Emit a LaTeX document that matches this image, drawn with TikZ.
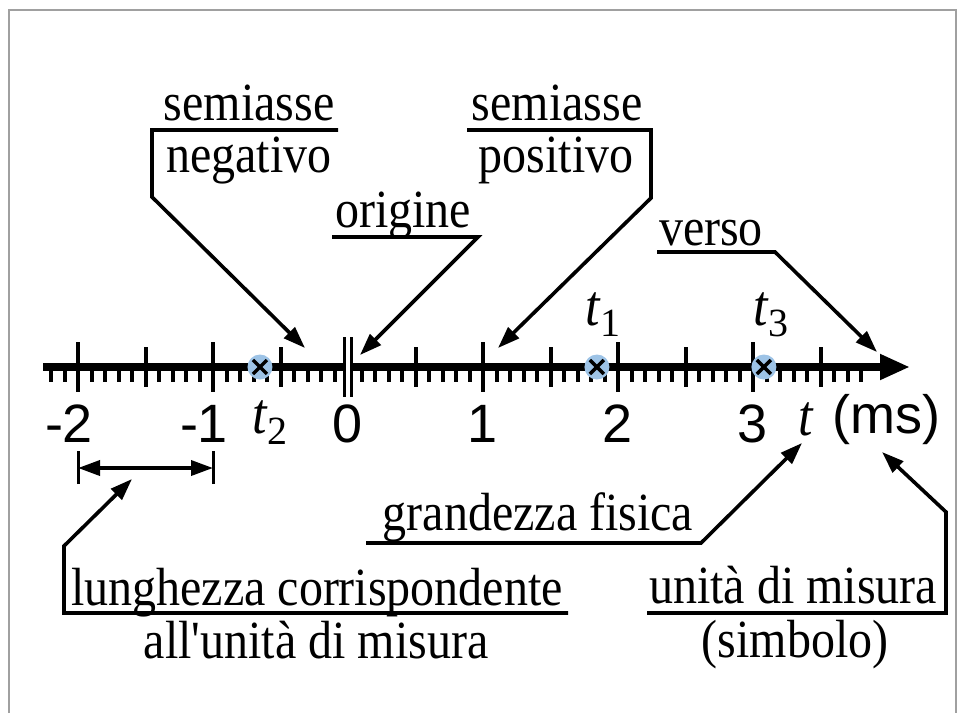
\documentclass[tikz,border=0pt]{standalone}
\usepackage{fontspec}
\usepackage{graphicx}
\setmainfont{Liberation Serif}[Ligatures=TeXOff]
\setsansfont{Liberation Sans}
\usetikzlibrary{arrows.meta}

\tikzset{
    lbl/.style={font=\fontsize{48}{56}\selectfont, inner sep=0pt, anchor=base},
    num/.style={font=\sffamily\fontsize{54}{60}\selectfont, inner sep=0pt, anchor=base},
    leader/.style={line width=3.6pt, -{Triangle[length=22pt,width=15pt]}},
    bigtick/.style={line width=4.5pt},
    halftick/.style={line width=4pt},
    minortick/.style={line width=4pt}
}
\newcommand{\tall}[1]{\scalebox{1}[1.12]{#1}}
\newcommand{\tsub}[1]{\tall{\textit{\fontsize{52}{56}\selectfont t}}\raisebox{-11pt}{\fontsize{40}{44}\selectfont #1}}

\begin{document}
\begin{tikzpicture}[x=1pt, y=-1pt]
    \useasboundingbox (0,0) rectangle (961,713);
    \def\unitLen{135}

    \definecolor{frameColour}{HTML}{A0A0A0}
    \definecolor{pointColour}{HTML}{9DC3E6}

    % Frame
    \draw[frameColour, line width=1.5pt] (9,713) -- (9,10) -- (956,10) -- (956,713);

    % Axis
    \coordinate (axL) at (43,367);
    \coordinate (axR) at (910,367);
    \draw[line width=8pt, -{Triangle[length=30pt,width=24pt]}] (axL) -- (axR);

    \begin{scope}[shift={(348,367)}, x=\unitLen pt]
        % Ticks
        \foreach \v in {-22,...,38} {
            \ifnum\v=0 \else \draw[minortick] (\v/10,0) -- (\v/10,15); \fi
        }
        \foreach \v in {-1.5,-0.5,0.5,1.5,2.5,3.5}
            \draw[halftick] (\v,-20) -- (\v,20);
        \foreach \v in {-2,-1,1,2,3}
            \draw[bigtick] (\v,-25) -- (\v,25);

        % Origin
        \draw[line width=3pt, double, double distance=4pt] (0,-30) -- (0,30);

        % Points
        \foreach \p/\n in {-0.652/ptB, 1.844/ptA, 3.081/ptC} {
            \fill[pointColour] (\p,0) circle (12.5pt);
            \coordinate (\n) at (\p,0);
            \draw[line width=3.5pt] ([shift={(-7pt,-7pt)}]\n) -- ([shift={(7pt,7pt)}]\n);
            \draw[line width=3.5pt] ([shift={(-7pt,7pt)}]\n) -- ([shift={(7pt,-7pt)}]\n);
        }

        % Numbers
        \node[num] (nm2) at (-2,75) {\llap{-}2};
        \node[num] (nm1) at (-1,75) {\llap{-}1};
        \foreach \v in {0,1,2,3}
            \node[num] (n\v) at (\v,75) {\v};
    \end{scope}

    % Point labels
    \node[inner sep=0pt, anchor=base west] (labB) at (252,433) {\tsub{2}};
    \node[inner sep=0pt, anchor=base west] (labA) at (585,325) {\tsub{1}};
    \node[inner sep=0pt, anchor=base west] (labC) at (753,325) {\tsub{3}};

    % Quantity and unit
    \node[inner sep=0pt, anchor=base west, font=\fontsize{52}{56}\selectfont\itshape] (qty) at (798,435) {\tall{t}};
    \node[num, anchor=base west] (unit) at (832,433) {(ms)};

    % Semiasse negativo
    \node[lbl] (negA) at (249,120) {\tall{semiasse}};
    \node[lbl] (negB) at (249,172) {\tall{negativo}};
    \coordinate (negU) at (338,130);
    \coordinate (negK) at (152,130);
    \coordinate (negJ) at (152,197);
    \coordinate (negT) at (305,348);
    \draw[leader] (negU) -- (negK) -- (negJ) -- (negT);

    % Origine
    \node[lbl] (ori) at (403,227) {\tall{origine}};
    \coordinate (oriU) at (332,237);
    \coordinate (oriK) at (478,237);
    \coordinate (oriT) at (360,355);
    \draw[leader] (oriU) -- (oriK) -- (oriT);

    % Semiasse positivo
    \node[lbl] (posA) at (557,120) {\tall{semiasse}};
    \node[lbl] (posB) at (556,172) {\tall{positivo}};
    \coordinate (posU) at (467,130);
    \coordinate (posK) at (651,130);
    \coordinate (posJ) at (651,198);
    \coordinate (posT) at (498,348);
    \draw[leader] (posU) -- (posK) -- (posJ) -- (posT);

    % Verso
    \node[lbl] (ver) at (711,245) {\tall{verso}};
    \coordinate (verU) at (657,252);
    \coordinate (verK) at (775,252);
    \coordinate (verT) at (877,352);
    \draw[leader] (verU) -- (verK) -- (verT);

    % Unit length
    \coordinate (dimL) at (78,468);
    \coordinate (dimR) at (213,468);
    \draw[line width=3pt] ([yshift=-16pt]dimL) -- ([yshift=17pt]dimL);
    \draw[line width=3pt] ([yshift=-16pt]dimR) -- ([yshift=17pt]dimR);
    \draw[line width=3.6pt, {Triangle[length=22pt,width=15pt]}-{Triangle[length=22pt,width=15pt]}] (dimL) -- (dimR);

    % Grandezza fisica
    \node[lbl] (gra) at (538,530) {\tall{grandezza fisica}};
    \coordinate (graU) at (366,543);
    \coordinate (graK) at (701,543);
    \coordinate (graT) at (802,443);
    \draw[leader] (graU) -- (graK) -- (graT);

    % Lunghezza corrispondente
    \node[lbl] (lunA) at (317,605) {\tall{lunghezza corrispondente}};
    \node[lbl] (lunB) at (316,658) {\tall{all'unità di misura}};
    \coordinate (lunU) at (568,613);
    \coordinate (lunK) at (64,613);
    \coordinate (lunJ) at (64,546);
    \coordinate (lunT) at (132,479);
    \draw[leader] (lunU) -- (lunK) -- (lunJ) -- (lunT);

    % Unita di misura
    \node[lbl] (uniA) at (793,603) {\tall{unità di misura}};
    \node[lbl] (uniB) at (795,657) {\tall{(simbolo)}};
    \coordinate (uniU) at (647,613);
    \coordinate (uniK) at (946,613);
    \coordinate (uniJ) at (946,512);
    \coordinate (uniT) at (882,452);
    \draw[leader] (uniU) -- (uniK) -- (uniJ) -- (uniT);
\end{tikzpicture}
\end{document}
